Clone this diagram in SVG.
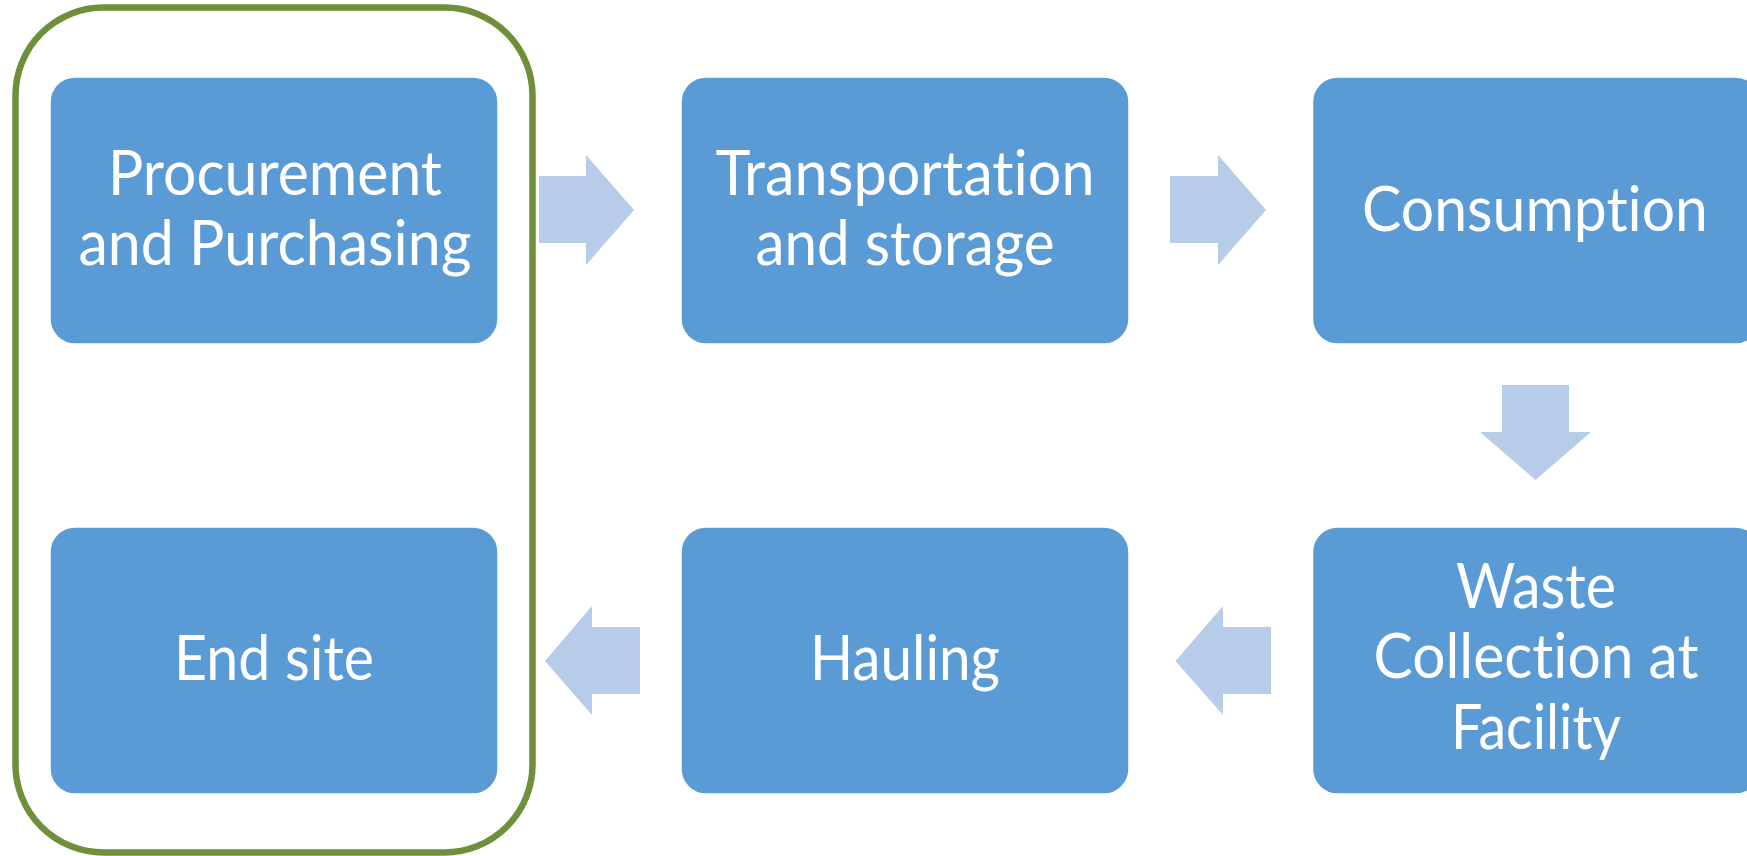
<svg xmlns="http://www.w3.org/2000/svg" width="1747" height="856" viewBox="0 0 1747 856">
<style>
.box{fill:#5B9BD5;stroke:#ffffff;stroke-width:1.5}
.arr{fill:#B7CCE8}
.lbl{font-family:"Lato","Open Sans",sans-serif;font-size:61px;fill:#ffffff;text-anchor:middle;font-variant-ligatures:none;font-feature-settings:"liga" 0,"clig" 0}
</style>
<rect width="1747" height="856" fill="#ffffff"/>
<g id="group-frame">
<rect x="15.5" y="7.5" width="517" height="845" rx="88" ry="88" fill="none" stroke="#6F8F3B" stroke-width="6.5"/>
</g>
<g id="connectors">
<polygon class="arr" points="539,176 586,176 586,155 634,210 586,265 586,243 539,243"/>
<polygon class="arr" points="1170,176 1218,176 1218,155 1266,210 1218,265 1218,243 1170,243"/>
<polygon class="arr" points="1502,385 1569,385 1569,432 1591,432 1535.5,480 1480,432 1502,432"/>
<polygon class="arr" points="1271,627 1223,627 1223,606 1175.5,661 1223,715 1223,694 1271,694"/>
<polygon class="arr" points="640,627 592,627 592,606 545,661 592,715 592,694 640,694"/>
</g>
<g id="node-procurement">
<rect class="box" x="50" y="77" width="448" height="267" rx="25"/>
<text class="lbl" x="275" y="195" textLength="334" lengthAdjust="spacingAndGlyphs">Procurement</text>
<text class="lbl" x="275" y="265" textLength="393" lengthAdjust="spacingAndGlyphs">and Purchasing</text>
</g>
<g id="node-transportation">
<rect class="box" x="681" y="77" width="448" height="267" rx="25"/>
<text class="lbl" x="905" y="195" textLength="379" lengthAdjust="spacingAndGlyphs">Transportation</text>
<text class="lbl" x="905" y="265" textLength="299" lengthAdjust="spacingAndGlyphs">and storage</text>
</g>
<g id="node-consumption">
<rect class="box" x="1312.5" y="77" width="448" height="267" rx="25"/>
<text class="lbl" x="1535" y="231" textLength="346" lengthAdjust="spacingAndGlyphs">Consumption</text>
</g>
<g id="node-waste">
<rect class="box" x="1312.5" y="527" width="448" height="267" rx="25"/>
<text class="lbl" x="1536" y="608" textLength="160" lengthAdjust="spacingAndGlyphs">Waste</text>
<text class="lbl" x="1536" y="678" textLength="325" lengthAdjust="spacingAndGlyphs">Collection at</text>
<text class="lbl" x="1536" y="749" textLength="170" lengthAdjust="spacingAndGlyphs">Facility</text>
</g>
<g id="node-hauling">
<rect class="box" x="681" y="527" width="448" height="267" rx="25"/>
<text class="lbl" x="905" y="680" textLength="190" lengthAdjust="spacingAndGlyphs">Hauling</text>
</g>
<g id="node-endsite">
<rect class="box" x="50" y="527" width="448" height="267" rx="25"/>
<text class="lbl" x="274" y="680" textLength="200" lengthAdjust="spacingAndGlyphs">End site</text>
</g>
</svg>
